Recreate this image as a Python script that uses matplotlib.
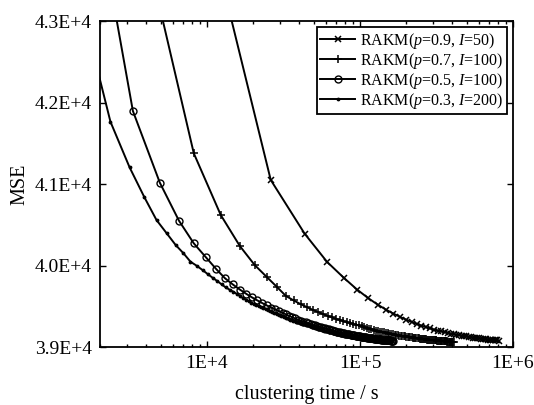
import matplotlib
matplotlib.use("Agg")
import matplotlib.pyplot as plt
from matplotlib.ticker import LogLocator, NullFormatter, FixedLocator

plt.rcParams['font.family'] = ['Liberation Serif', 'DejaVu Serif']
plt.rcParams['mathtext.fontset'] = 'custom'
plt.rcParams['mathtext.rm'] = 'Liberation Serif'
plt.rcParams['mathtext.it'] = 'Liberation Serif:italic'

# ---- data: (clustering time in s, MSE) ----
time_p09 = [8700, 26100, 43500, 60900, 78300, 95700, 113100, 130500, 147900, 165300,
            182700, 200100, 217500, 234900, 252300, 269700, 287100, 304500, 321900, 339300,
            356700, 374100, 391500, 408900, 426300, 443700, 461100, 478500, 495900, 513300,
            530700, 548100, 565500, 582900, 600300, 617700, 635100, 652500, 669900, 687300,
            704700, 722100, 739500, 756900, 774300, 791700, 809100]
mse_p09 = [44700, 41050, 40390, 40045, 39850, 39705, 39600, 39520, 39458, 39410,
           39370, 39336, 39307, 39283, 39262, 39244, 39228, 39214, 39202, 39192,
           39182, 39173, 39165, 39158, 39151, 39145, 39140, 39134, 39129, 39125,
           39120, 39116, 39112, 39109, 39106, 39103, 39100, 39097, 39095, 39092,
           39090, 39088, 39086, 39084, 39082, 39080, 39078]

time_p07 = [4100, 8200, 12300, 16400, 20500, 24600, 28700, 32800, 36900, 41000,
            45100, 49200, 53300, 57400, 61500, 65600, 69700, 73800, 77900, 82000,
            86100, 90200, 94300, 98400, 102500, 106600, 110700, 114800, 118900, 123000,
            127100, 131200, 135300, 139400, 143500, 147600, 151700, 155800, 159900, 164000,
            168100, 172200, 176300, 180400, 184500, 188600, 192700, 196800, 200900, 205000,
            209100, 213200, 217300, 221400, 225500, 229600, 233700, 237800, 241900, 246000,
            250100, 254200, 258300, 262400, 266500, 270600, 274700, 278800, 282900, 287000,
            291100, 295200, 299300, 303400, 307500, 311600, 315700, 319800, 323900, 328000,
            332100, 336200, 340300, 344400, 348500, 352600, 356700, 360800, 364900, 369000,
            373100, 377200, 381300, 385400, 389500, 393600, 397700, 401800, 405900, 410000]
mse_p07 = [43800, 41377, 40620, 40239, 40006, 39859, 39736, 39626, 39571, 39525,
           39488, 39455, 39428, 39403, 39382, 39363, 39346, 39331, 39317, 39305,
           39293, 39283, 39273, 39264, 39252, 39242, 39233, 39224, 39216, 39209,
           39202, 39196, 39190, 39184, 39179, 39174, 39169, 39164, 39160, 39156,
           39152, 39148, 39145, 39141, 39138, 39135, 39132, 39129, 39127, 39124,
           39122, 39119, 39117, 39115, 39113, 39111, 39109, 39107, 39105, 39103,
           39101, 39100, 39098, 39096, 39095, 39093, 39092, 39091, 39089, 39088,
           39087, 39086, 39084, 39083, 39082, 39081, 39080, 39079, 39078, 39077,
           39076, 39075, 39074, 39073, 39072, 39071, 39071, 39070, 39069, 39068,
           39067, 39067, 39066, 39065, 39064, 39064, 39063, 39062, 39062, 39061]

time_p05 = [1640, 3280, 4920, 6560, 8200, 9840, 11480, 13120, 14760, 16400,
            18040, 19680, 21320, 22960, 24600, 26240, 27880, 29520, 31160, 32800,
            34440, 36080, 37720, 39360, 41000, 42640, 44280, 45920, 47560, 49200,
            50840, 52480, 54120, 55760, 57400, 59040, 60680, 62320, 63960, 65600,
            67240, 68880, 70520, 72160, 73800, 75440, 77080, 78720, 80360, 82000,
            83640, 85280, 86920, 88560, 90200, 91840, 93480, 95120, 96760, 98400,
            100040, 101680, 103320, 104960, 106600, 108240, 109880, 111520, 113160, 114800,
            116440, 118080, 119720, 121360, 123000, 124640, 126280, 127920, 129560, 131200,
            132840, 134480, 136120, 137760, 139400, 141040, 142680, 144320, 145960, 147600,
            149240, 150880, 152520, 154160, 155800, 157440, 159080, 160720, 162360, 164000]
mse_p05 = [45060, 41896, 41016, 40550, 40272, 40101, 39957, 39843, 39767, 39705,
           39653, 39609, 39572, 39539, 39510, 39484, 39461, 39441, 39420, 39400,
           39382, 39365, 39350, 39336, 39323, 39311, 39301, 39290, 39281, 39272,
           39264, 39256, 39248, 39241, 39235, 39229, 39222, 39216, 39210, 39204,
           39199, 39194, 39189, 39184, 39180, 39176, 39172, 39168, 39164, 39161,
           39158, 39154, 39151, 39148, 39145, 39142, 39140, 39137, 39135, 39132,
           39130, 39128, 39125, 39123, 39121, 39119, 39117, 39115, 39114, 39112,
           39110, 39109, 39107, 39105, 39104, 39102, 39101, 39100, 39098, 39097,
           39096, 39094, 39093, 39092, 39091, 39090, 39089, 39087, 39086, 39085,
           39084, 39083, 39082, 39081, 39080, 39080, 39079, 39078, 39077, 39076]

time_p03 = [780, 1560, 2340, 3120, 3900, 4680, 5460, 6240, 7020, 7800,
            8580, 9360, 10140, 10920, 11700, 12480, 13260, 14040, 14820, 15600,
            16380, 17160, 17940, 18720, 19500, 20280, 21060, 21840, 22620, 23400,
            24180, 24960, 25740, 26520, 27300, 28080, 28860, 29640, 30420, 31200,
            31980, 32760, 33540, 34320, 35100, 35880, 36660, 37440, 38220, 39000,
            39780, 40560, 41340, 42120, 42900, 43680, 44460, 45240, 46020, 46800,
            47580, 48360, 49140, 49920, 50700, 51480, 52260, 53040, 53820, 54600,
            55380, 56160, 56940, 57720, 58500, 59280, 60060, 60840, 61620, 62400,
            63180, 63960, 64740, 65520, 66300, 67080, 67860, 68640, 69420, 70200,
            70980, 71760, 72540, 73320, 74100, 74880, 75660, 76440, 77220, 78000,
            78780, 79560, 80340, 81120, 81900, 82680, 83460, 84240, 85020, 85800,
            86580, 87360, 88140, 88920, 89700, 90480, 91260, 92040, 92820, 93600,
            94380, 95160, 95940, 96720, 97500, 98280, 99060, 99840, 100620, 101400,
            102180, 102960, 103740, 104520, 105300, 106080, 106860, 107640, 108420, 109200,
            109980, 110760, 111540, 112320, 113100, 113880, 114660, 115440, 116220, 117000,
            117780, 118560, 119340, 120120, 120900, 121680, 122460, 123240, 124020, 124800,
            125580, 126360, 127140, 127920, 128700, 129480, 130260, 131040, 131820, 132600,
            133380, 134160, 134940, 135720, 136500, 137280, 138060, 138840, 139620, 140400,
            141180, 141960, 142740, 143520, 144300, 145080, 145860, 146640, 147420, 148200,
            148980, 149760, 150540, 151320, 152100, 152880, 153660, 154440, 155220, 156000]
mse_p03 = [45500, 43090, 41764, 41205, 40837, 40558, 40395, 40252, 40150, 40047,
           39996, 39944, 39893, 39848, 39808, 39768, 39731, 39705, 39679, 39654,
           39628, 39602, 39582, 39563, 39546, 39529, 39514, 39500, 39487, 39474,
           39462, 39451, 39440, 39430, 39421, 39412, 39403, 39393, 39384, 39375,
           39367, 39359, 39352, 39344, 39337, 39331, 39324, 39318, 39312, 39307,
           39301, 39296, 39291, 39286, 39281, 39277, 39272, 39268, 39264, 39260,
           39256, 39251, 39246, 39242, 39238, 39234, 39230, 39226, 39222, 39219,
           39215, 39212, 39209, 39205, 39202, 39199, 39196, 39193, 39191, 39188,
           39185, 39183, 39180, 39178, 39176, 39173, 39171, 39169, 39167, 39164,
           39162, 39160, 39158, 39157, 39155, 39153, 39151, 39149, 39148, 39146,
           39144, 39143, 39141, 39139, 39138, 39136, 39134, 39133, 39131, 39130,
           39129, 39127, 39126, 39125, 39123, 39122, 39121, 39119, 39118, 39117,
           39116, 39115, 39114, 39113, 39112, 39111, 39110, 39109, 39108, 39107,
           39106, 39105, 39104, 39103, 39102, 39101, 39100, 39099, 39098, 39097,
           39096, 39095, 39095, 39094, 39093, 39092, 39092, 39091, 39090, 39090,
           39089, 39088, 39088, 39087, 39086, 39086, 39085, 39084, 39084, 39083,
           39082, 39082, 39081, 39081, 39080, 39080, 39079, 39078, 39078, 39077,
           39076, 39076, 39075, 39075, 39074, 39074, 39073, 39073, 39072, 39072,
           39071, 39071, 39071, 39070, 39070, 39069, 39069, 39068, 39068, 39068,
           39067, 39067, 39066, 39066, 39065, 39065, 39065, 39064, 39064, 39064]

labels = ['RAKM($p$=0.9, $I$=50)', 'RAKM($p$=0.7, $I$=100)',
          'RAKM($p$=0.5, $I$=100)', 'RAKM($p$=0.3, $I$=200)']
x_ticks = [1e4, 1e5, 1e6]
x_ticklabels = ['1E+4', '1E+5', '1E+6']
y_ticks = [39000, 40000, 41000, 42000, 43000]
y_ticklabels = ['3.9E+4', '4.0E+4', '4.1E+4', '4.2E+4', '4.3E+4']

fig = plt.figure(figsize=(5.34, 4.05), dpi=100)
ax = fig.add_axes([0.1873, 0.1432, 0.7734, 0.8049])

lw = 1.4
ax.plot(time_p09, mse_p09, color='black', lw=lw, marker='x', ms=4, mew=1.1, label=labels[0])
ax.plot(time_p07, mse_p07, color='black', lw=lw, marker='+', ms=6, mew=1.1, label=labels[1])
ax.plot(time_p05, mse_p05, color='black', lw=lw, marker='o', ms=5, mew=1.0, mfc='none', label=labels[2])
ax.plot(time_p03, mse_p03, color='black', lw=lw, marker='.', ms=3.5, label=labels[3])

ax.set_xscale('log')
ax.set_xlim(2000, 1e6)
ax.set_ylim(39000, 43000)
ax.set_xticks(x_ticks)
ax.set_xticklabels(x_ticklabels)
ax.xaxis.set_minor_locator(LogLocator(base=10, subs=[2, 3, 4, 5, 6, 7, 8, 9], numticks=20))
ax.xaxis.set_minor_formatter(NullFormatter())
ax.yaxis.set_major_locator(FixedLocator(y_ticks))
ax.set_yticklabels(y_ticklabels)

ax.tick_params(which='both', direction='in', top=True, right=True, labelsize=14, width=1.0, pad=6)
ax.tick_params(which='major', length=4)
ax.tick_params(which='minor', length=2.5)
for s in ax.spines.values():
    s.set_linewidth(1.3)

ax.set_xlabel('clustering time / s', fontsize=14.5, labelpad=9)
ax.set_ylabel('MSE', fontsize=14.5, labelpad=4)

leg = ax.legend(loc='upper right', fontsize=11.5, frameon=True, fancybox=False,
                edgecolor='black', framealpha=1, handlelength=2.2, handletextpad=0.3,
                borderpad=0.2, labelspacing=0.0, borderaxespad=0.4)
leg.get_frame().set_linewidth(1.3)

fig.savefig('out.png', dpi=100)
